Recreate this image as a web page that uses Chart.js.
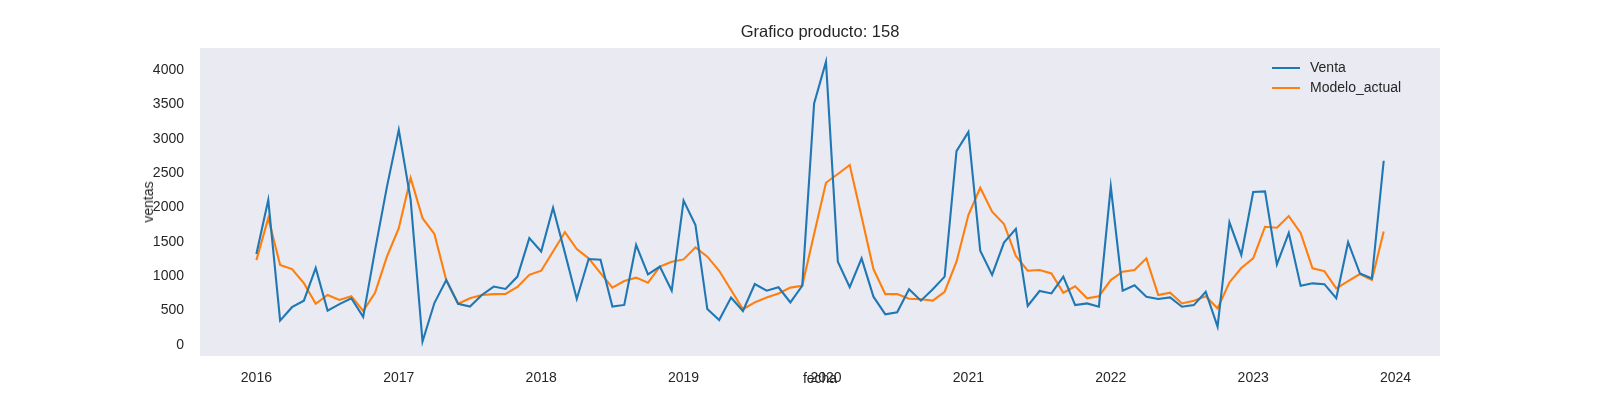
<!DOCTYPE html>
<html>
<head>
<meta charset="utf-8">
<script src="https://cdn.jsdelivr.net/npm/chart.js@4"></script>
<style>
  body { margin: 0; background: #fff; font-family: "Liberation Sans", Arial, sans-serif; color: #262626; }
  #wrap { position: relative; width: 1600px; height: 400px; }
  .txt { position: absolute; white-space: nowrap; }
  #titulo { left: 820px; top: 22px; transform: translateX(-50%); font-size: 16.5px; }
  #xlab { left: 820px; top: 370px; transform: translateX(-50%); font-size: 14px; }
  #ylab { left: 148px; top: 202px; transform: translate(-50%, -50%) rotate(-90deg); font-size: 14px; }
  #leyenda { left: 1272px; top: 57px; font-size: 14px; line-height: 20px; }
  #leyenda span.l { display: inline-block; width: 28px; height: 2px; vertical-align: middle; margin-right: 10px; }
</style>
</head>
<body>
<div id="wrap">
  <canvas id="chartProducto" width="1600" height="400"></canvas>
  <div class="txt" id="titulo">Grafico producto: 158</div>
  <div class="txt" id="xlab">fecha</div>
  <div class="txt" id="ylab">ventas</div>
  <div class="txt" id="leyenda">
    <div><span class="l" style="background:#1f77b4"></span>Venta</div>
    <div><span class="l" style="background:#ff7f0e"></span>Modelo_actual</div>
  </div>
</div>
<script>
// Meses: enero 2016 a diciembre 2023
const anios = [2016, 2017, 2018, 2019, 2020, 2021, 2022, 2023];
const meses = [1, 2, 3, 4, 5, 6, 7, 8, 9, 10, 11, 12];

const venta = [
    1323, 2110, 355, 550, 645, 1120, 500, 595, 680, 410, 1380, 2300,
    3130, 2110, 50, 610, 945, 600, 560, 727, 850, 815, 995, 1555,
    1360, 1995, 1340, 670, 1250, 1240, 560, 583, 1455, 1028, 1140, 790,
    2100, 1745, 523, 364, 690, 495, 887, 790, 840, 620, 862, 3515,
    4120, 1212, 840, 1260, 703, 446, 475, 810, 645, 810, 995, 2820,
    3100, 1372, 1020, 1490, 1690, 567, 785, 750, 995, 580, 605, 557,
    2305, 790, 868, 703, 670, 693, 557, 580, 775, 267, 1785, 1310,
    2225, 2235, 1173, 1630, 860, 897, 885, 680, 1495, 1040, 967, 2680
];

const modeloActual = [
    1235, 1845, 1165, 1105, 900, 600, 727, 655, 710, 495, 760, 1285,
    1700, 2430, 1845, 1615, 945, 600, 680, 727, 740, 744, 845, 1020,
    1080, 1360, 1640, 1395, 1260, 1045, 835, 930, 980, 905, 1140, 1210,
    1245, 1420, 1285, 1080, 800, 520, 620, 690, 750, 835, 862, 1615,
    2360, 2487, 2618, 1865, 1105, 740, 740, 673, 665, 645, 775, 1212,
    1890, 2287, 1940, 1760, 1295, 1080, 1090, 1040, 760, 855, 680, 710,
    945, 1067, 1090, 1260, 727, 760, 605, 645, 710, 533, 910, 1120,
    1260, 1720, 1705, 1876, 1630, 1115, 1075, 825, 930, 1033, 945, 1650
];

const ticksX = [2016, 2017, 2018, 2019, 2020, 2021, 2022, 2023, 2024];
const ticksY = [0, 500, 1000, 1500, 2000, 2500, 3000, 3500, 4000];

// fecha decimal de cada mes
const fechas = [];
anios.forEach(a => meses.forEach(m => fechas.push(a + (m - 1) / 12)));

const fondo = {
    id: 'fondo',
    beforeDraw(chart) {
        const { ctx, chartArea } = chart;
        ctx.save();
        ctx.fillStyle = '#eaeaf2';
        ctx.fillRect(chartArea.left, chartArea.top, chartArea.right - chartArea.left, chartArea.bottom - chartArea.top);
        ctx.restore();
    }
};

const fuente = { family: '"Liberation Sans", Arial, sans-serif', size: 14 };

new Chart(document.getElementById('chartProducto'), {
    type: 'line',
    data: {
        datasets: [{
            label: 'Venta',
            data: fechas.map((f, i) => ({ x: f, y: venta[i] })),
            borderColor: '#1f77b4',
            borderWidth: 2.1,
            pointRadius: 0,
            tension: 0
        }, {
            label: 'Modelo_actual',
            data: fechas.map((f, i) => ({ x: f, y: modeloActual[i] })),
            borderColor: '#ff7f0e',
            borderWidth: 2.1,
            pointRadius: 0,
            tension: 0
        }]
    },
    options: {
        responsive: false,
        animation: false,
        layout: { padding: { left: 0, right: 160, top: 48, bottom: 0 } },
        plugins: { legend: { display: false }, title: { display: false }, tooltip: { enabled: false } },
        scales: {
            x: {
                type: 'linear',
                min: 2015.604,
                max: 2024.312,
                grid: { display: false },
                border: { display: false },
                afterBuildTicks: s => { s.ticks = ticksX.map(v => ({ value: v })); },
                afterFit: s => { s.height = 44; },
                ticks: { font: fuente, color: '#262626', padding: 6, maxRotation: 0, callback: v => String(v) }
            },
            y: {
                min: -160,
                max: 4320,
                grid: { display: false },
                border: { display: false },
                afterBuildTicks: s => { s.ticks = ticksY.map(v => ({ value: v })); },
                afterFit: s => { s.width = 200; },
                ticks: { font: fuente, color: '#262626', padding: 8, callback: v => String(v) }
            }
        }
    },
    plugins: [fondo]
});
</script>
</body>
</html>
